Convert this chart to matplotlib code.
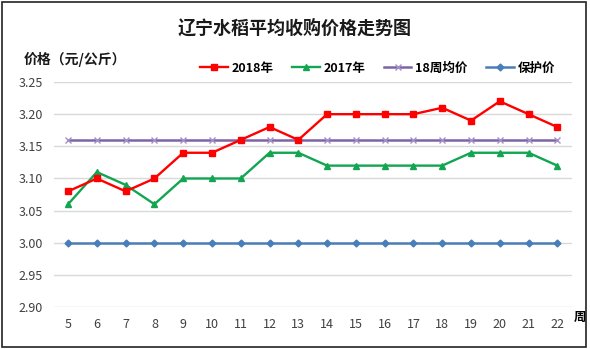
import numpy as np
import matplotlib.pyplot as plt
from matplotlib.patches import Rectangle

plt.rcParams['font.family'] = ['Noto Sans CJK SC', 'DejaVu Sans']

weeks = list(range(5, 23))
price_2018 = [3.08, 3.10, 3.08, 3.10, 3.14, 3.14, 3.16, 3.18, 3.16, 3.20,
              3.20, 3.20, 3.20, 3.21, 3.19, 3.22, 3.20, 3.18]
price_2017 = [3.06, 3.11, 3.09, 3.06, 3.10, 3.10, 3.10, 3.14, 3.14, 3.12,
              3.12, 3.12, 3.12, 3.12, 3.14, 3.14, 3.14, 3.12]
avg_18 = [3.16] * len(weeks)
support = [3.00] * len(weeks)

fig = plt.figure(figsize=(5.9, 3.49), dpi=100)
ax = fig.add_axes([0.091, 0.12, 0.878, 0.645])

x = np.arange(len(weeks))
ax.plot(x, support, color='#4A7EBB', lw=1.8, marker='D', ms=3.5, label='保护价', zorder=2)
ax.plot(x, avg_18, color='#7F63A6', lw=1.8, marker='x', ms=5, mec='#A48FC8', mew=1, label='18周均价', zorder=3)
ax.plot(x, price_2017, color='#12A552', lw=1.7, marker='^', ms=5, label='2017年', zorder=4)
ax.plot(x, price_2018, color='#FF0000', lw=1.7, marker='s', ms=4, label='2018年', zorder=5)

ax.set_xlim(-0.5, len(weeks) - 0.5)
ax.set_ylim(2.90, 3.25)
ax.set_yticks(np.arange(2.90, 3.251, 0.05))
ax.set_yticklabels([f'{v:.2f}' for v in np.arange(2.90, 3.251, 0.05)])
ax.set_xticks(x)
ax.set_xticklabels([str(w) for w in weeks])
ax.tick_params(length=0, labelsize=9, colors='#404040', pad=8)
ax.grid(axis='y', color='#D9D9D9', lw=1)
for s in ax.spines.values():
    s.set_visible(False)

handles, labels = ax.get_legend_handles_labels()
order = [3, 2, 1, 0]
leg = fig.legend([handles[i] for i in order], [labels[i] for i in order],
                 loc='center', bbox_to_anchor=(0.64, 0.805), ncol=4, frameon=False,
                 prop={'size': 9, 'weight': 'bold'}, handlelength=2.2, columnspacing=1.5,
                 handletextpad=0.3)

fig.text(0.5, 0.92, '辽宁水稻平均收购价格走势图', ha='center', va='center',
         fontsize=13, fontweight='bold', color='#1a1a1a')
fig.text(0.04, 0.83, '价格（元/公斤）', ha='left', va='center', fontsize=10,
         fontweight='bold', color='#1a1a1a')
fig.text(0.972, 0.09, '周', ha='left', va='center', fontsize=9, fontweight='bold')

fig.patches.append(Rectangle((0.004, 0.006), 0.99, 0.988, transform=fig.transFigure,
                             fill=False, edgecolor='#222222', lw=1.2))

fig.savefig('out.png', dpi=100)
